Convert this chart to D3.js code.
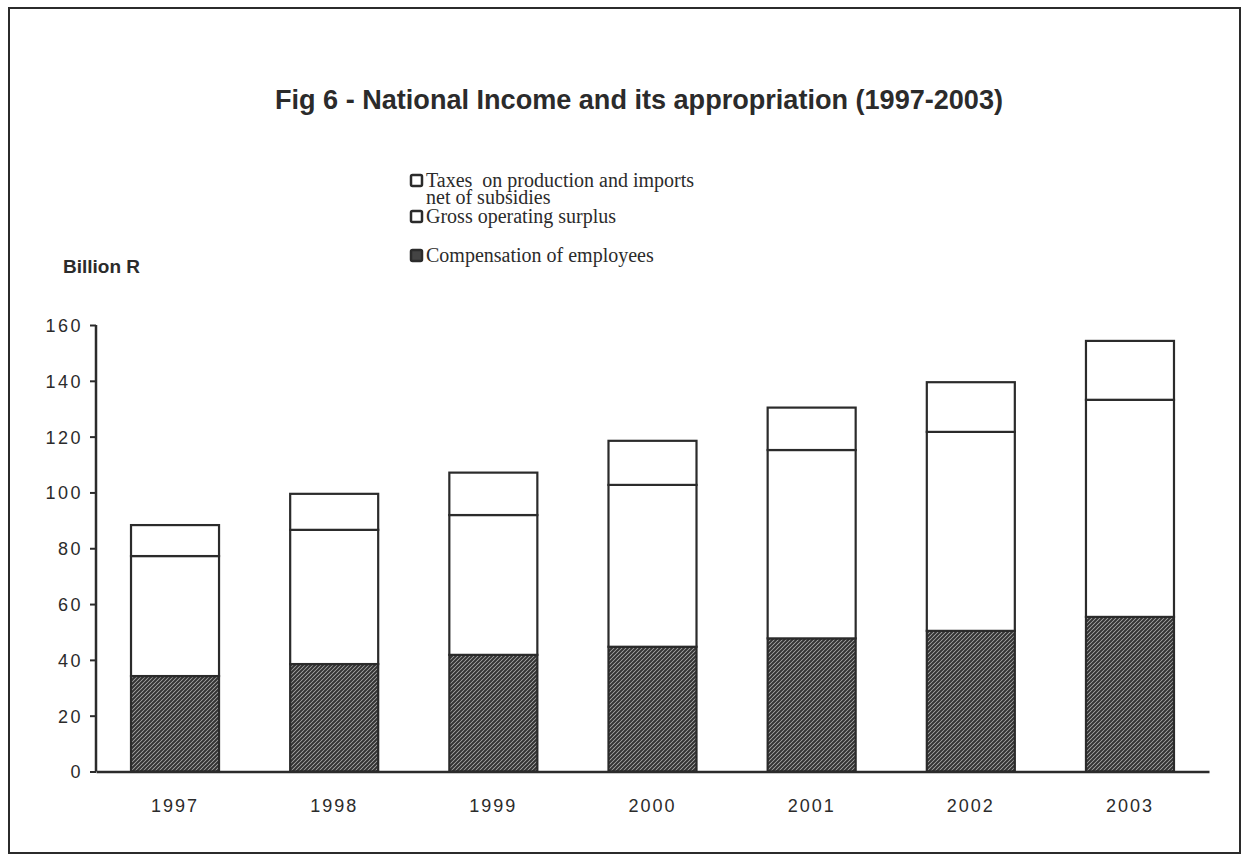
<!DOCTYPE html>
<html>
<head>
<meta charset="utf-8">
<script src="https://cdn.jsdelivr.net/npm/d3@7"></script>
<style>
  body { margin: 0; background: #fff; }
</style>
</head>
<body>
<div id="chart-area"></div>
<script>
// data (billion R)
var years = ["1997", "1998", "1999", "2000", "2001", "2002", "2003"];
var compensation = [34.2, 38.5, 41.8, 44.7, 47.7, 50.4, 55.4];
var grossSurplus = [43.0, 48.1, 50.1, 58.0, 67.5, 71.3, 77.8];
var taxesNet = [11.1, 12.9, 15.2, 15.8, 15.2, 17.8, 21.1];
var yTicks = [0, 20, 40, 60, 80, 100, 120, 140, 160];
var seriesKeys = ["comp", "gross", "taxes"];
var legendLabels = ["Taxes  on production and imports", "net of subsidies", "Gross operating surplus", "Compensation of employees"];

var W = 1247, H = 858;
var ink = "#2b2b2b";

var svg = d3.select("#chart-area")
    .append("svg")
        .attr("width", W)
        .attr("height", H);

// hatch pattern for compensation
var defs = svg.append("defs");
var pat = defs.append("pattern")
    .attr("id", "hatch")
    .attr("patternUnits", "userSpaceOnUse")
    .attr("width", 4)
    .attr("height", 4);
pat.append("rect").attr("width", 4).attr("height", 4).attr("fill", "#b0b0b0");
pat.append("path")
    .attr("d", "M-1,1 l2,-2 M0,4 l4,-4 M3,5 l2,-2")
    .attr("stroke", "#333")
    .attr("stroke-width", 2);

// outer frame
svg.append("rect")
    .attr("x", 9).attr("y", 8)
    .attr("width", 1231).attr("height", 845)
    .attr("fill", "none")
    .attr("stroke", ink)
    .attr("stroke-width", 2);

// title
svg.append("text")
    .attr("x", 639)
    .attr("y", 109)
    .attr("text-anchor", "middle")
    .attr("font-family", "Liberation Sans Narrow, Liberation Sans, Arial, sans-serif")
    .attr("font-weight", "bold")
    .attr("font-size", "27px")
    .attr("fill", ink)
    .attr("textLength", 728)
    .attr("lengthAdjust", "spacingAndGlyphs")
    .text("Fig 6 - National Income and its appropriation (1997-2003)");

// unit label
svg.append("text")
    .attr("x", 63)
    .attr("y", 273)
    .attr("font-family", "Liberation Sans, Arial, sans-serif")
    .attr("font-weight", "bold")
    .attr("font-size", "18px")
    .attr("fill", ink)
    .attr("textLength", 77)
    .attr("lengthAdjust", "spacingAndGlyphs")
    .text("Billion R");

var table = years.map(function(y, i) {
    return { year: y, comp: compensation[i], gross: grossSurplus[i], taxes: taxesNet[i] };
});

var x = d3.scaleBand()
    .domain(years)
    .range([96, 1209])
    .paddingInner(0.447)
    .paddingOuter(0.22);

var y = d3.scaleLinear()
    .domain([0, 160])
    .range([771.5, 325]);

var stack = d3.stack().keys(seriesKeys)(table);
var fills = { comp: "url(#hatch)", gross: "#fff", taxes: "#fff" };

svg.append("g")
    .selectAll("g")
    .data(stack)
    .enter()
    .append("g")
        .attr("fill", function(d) { return fills[d.key]; })
    .selectAll("rect")
    .data(function(d) { return d; })
    .enter()
    .append("rect")
        .attr("x", function(d) { return x(d.data.year); })
        .attr("y", function(d) { return y(d[1]); })
        .attr("width", x.bandwidth())
        .attr("height", function(d) { return y(d[0]) - y(d[1]); })
        .attr("stroke", ink)
        .attr("stroke-width", 2.2);

// y axis
var yAxis = d3.axisLeft(y)
    .tickValues(yTicks)
    .tickSize(6)
    .tickPadding(7);
var gy = svg.append("g")
    .attr("transform", "translate(96,0)")
    .call(yAxis);
gy.select(".domain").attr("d", "M0," + y(160) + "V" + y(0)).attr("stroke", ink).attr("stroke-width", 2.5);
gy.selectAll(".tick line").attr("stroke", ink).attr("stroke-width", 2);
gy.selectAll(".tick text")
    .attr("font-family", "Liberation Sans, Arial, sans-serif")
    .attr("font-size", "18px")
    .attr("letter-spacing", "2.5px")
    .attr("fill", ink)
    .attr("dy", "0.36em");

// x axis
var xAxis = d3.axisBottom(x).tickSize(0).tickPadding(28);
var gx = svg.append("g")
    .attr("transform", "translate(0," + y(0) + ")")
    .call(xAxis);
gx.select(".domain").attr("stroke", ink).attr("stroke-width", 2.5);
gx.selectAll(".tick text")
    .attr("font-family", "Liberation Sans, Arial, sans-serif")
    .attr("font-size", "18px")
    .attr("letter-spacing", "2px")
    .attr("fill", ink);

// legend
var legend = svg.append("g").attr("font-family", "Liberation Serif, Times New Roman, serif")
    .attr("font-size", "20px").attr("fill", ink);
var legendRows = [
    { label: legendLabels[0], y: 187, box: true, dark: false },
    { label: legendLabels[1], y: 204, box: false, dark: false },
    { label: legendLabels[2], y: 223, box: true, dark: false },
    { label: legendLabels[3], y: 262, box: true, dark: true }
];
legendRows.forEach(function(r) {
    if (r.box) {
        legend.append("rect")
            .attr("x", 411).attr("y", r.y - 12)
            .attr("width", 11).attr("height", 11)
            .attr("rx", 1.5)
            .attr("fill", r.dark ? "#444" : "#fff")
            .attr("stroke", ink)
            .attr("stroke-width", 2.5);
    }
    legend.append("text")
        .attr("x", 426).attr("y", r.y)
        .style("white-space", "pre")
        .text(r.label);
});
</script>
</body>
</html>
